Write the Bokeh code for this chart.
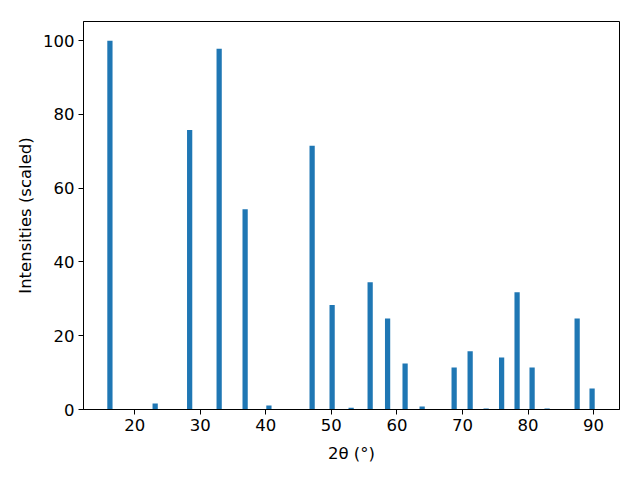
from bokeh.plotting import figure
from bokeh.models import Range1d, FixedTicker, ColumnDataSource
from bokeh.embed import file_html
from bokeh.resources import INLINE

two_theta = [16.23, 23.13, 28.39, 32.89, 36.85, 40.48, 47.07, 50.12, 53.02, 55.92,
             58.58, 61.25, 63.85, 68.73, 71.17, 73.61, 75.97, 78.33, 80.62, 82.91,
             87.49, 89.77]
intensity = [100.0, 1.6, 75.8, 97.8, 54.3, 1.1, 71.5, 28.3, 0.5, 34.5,
             24.7, 12.5, 0.8, 11.4, 15.8, 0.3, 14.1, 31.8, 11.4, 0.3,
             24.7, 5.7]
x_ticks = [20, 30, 40, 50, 60, 70, 80, 90]
y_ticks = [0, 20, 40, 60, 80, 100]

src = ColumnDataSource(data=dict(x=two_theta, top=intensity))

p = figure(width=640, height=480, output_backend="svg", toolbar_location=None,
           x_range=Range1d(12.2, 93.95), y_range=Range1d(0, 105.2),
           min_border_left=83, min_border_right=21, min_border_top=21, min_border_bottom=71)
p.vbar(x="x", top="top", bottom=0, width=0.8, source=src, color="#1f77b4", line_width=0)

p.grid.visible = False
p.outline_line_color = "black"
p.outline_line_width = 1
p.outline_line_alpha = 1
p.background_fill_color = "white"
p.border_fill_color = "white"

p.xaxis.ticker = FixedTicker(ticks=x_ticks)
p.yaxis.ticker = FixedTicker(ticks=y_ticks)
p.xaxis.axis_label = "2θ (°)"
p.yaxis.axis_label = "Intensities (scaled)"
for ax in (p.xaxis, p.yaxis):
    ax.axis_line_color = "black"
    ax.major_tick_line_color = "black"
    ax.major_tick_out = 5
    ax.major_tick_in = 0
    ax.minor_tick_line_color = None
    ax.major_label_text_font = "DejaVu Sans"
    ax.major_label_text_font_size = "16.5px"
    ax.major_label_text_color = "black"
    ax.axis_label_text_font = "DejaVu Sans"
    ax.axis_label_text_font_size = "16.5px"
    ax.axis_label_text_font_style = "normal"
    ax.axis_label_text_color = "black"
    ax.major_label_standoff = 4
p.xaxis.axis_label_standoff = 10
p.yaxis.axis_label_standoff = 5

open("out.html", "w").write(file_html(p, INLINE))
